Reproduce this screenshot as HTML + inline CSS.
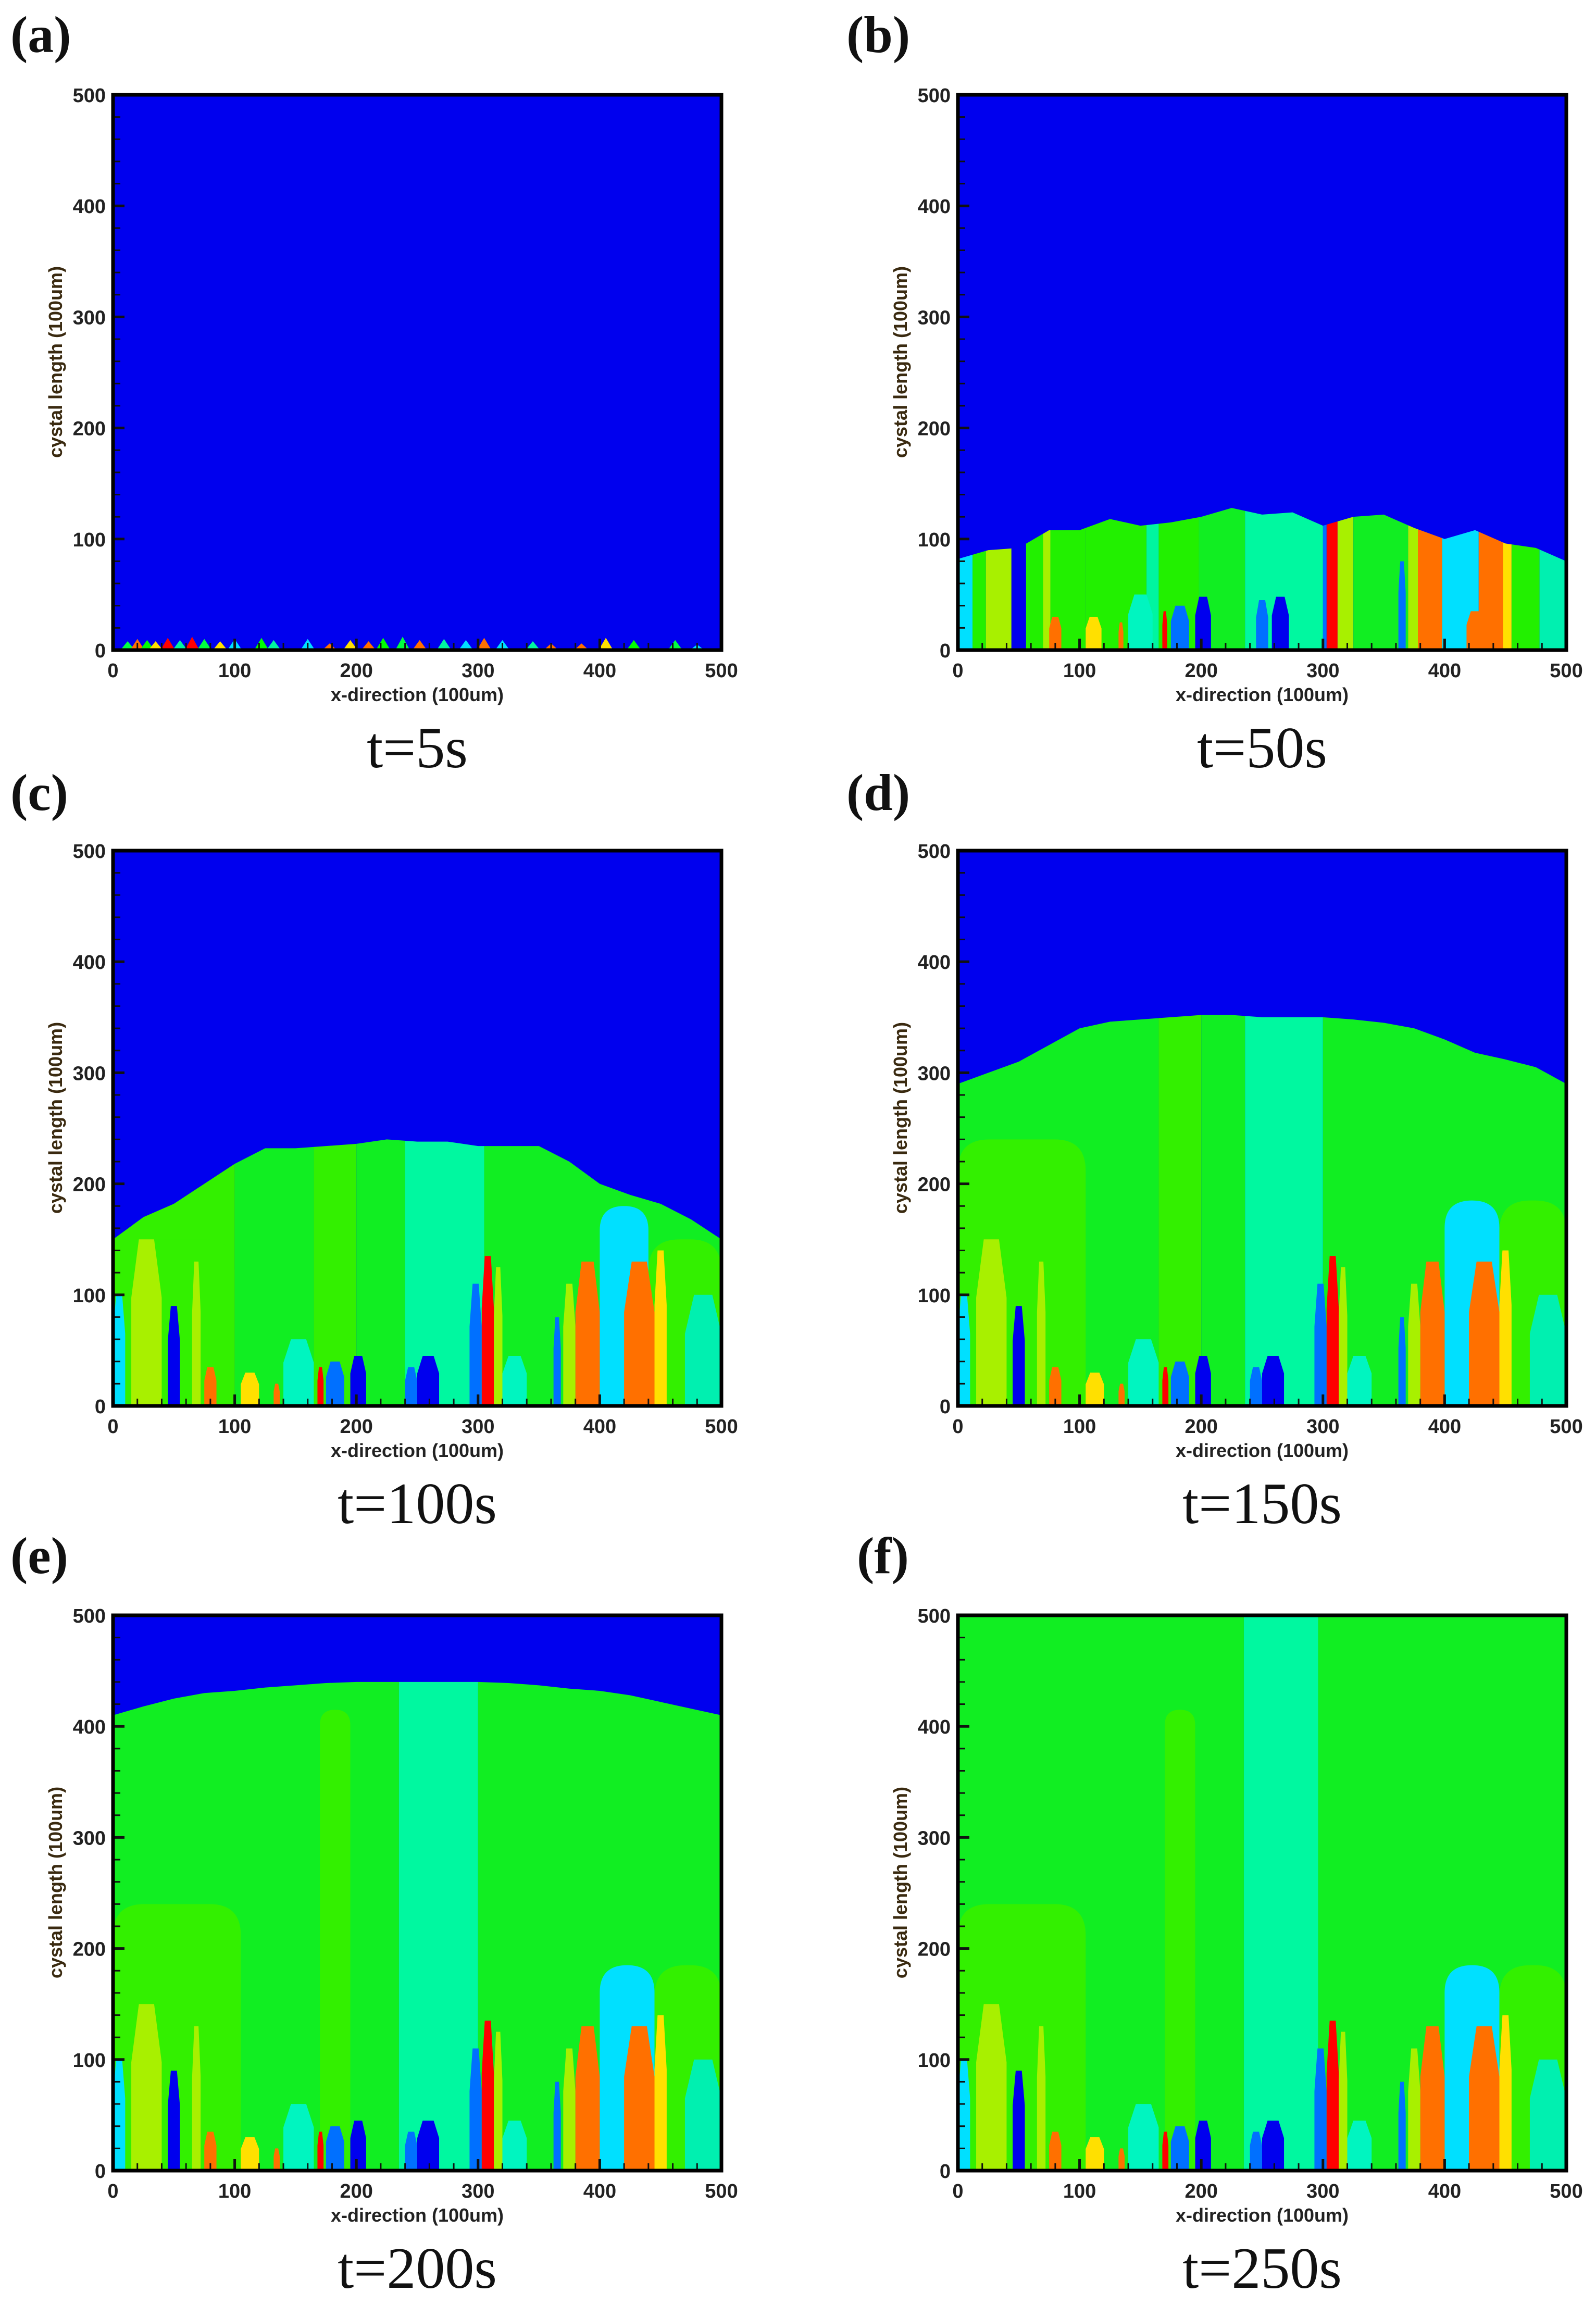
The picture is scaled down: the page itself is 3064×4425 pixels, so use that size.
<!DOCTYPE html>
<html><head><meta charset="utf-8">
<style>
html,body{margin:0;padding:0;background:#fff;}
svg{display:block;}
.tick{font-family:"Liberation Sans",Arial,sans-serif;font-weight:bold;font-size:38px;fill:#222;}
.axt{font-family:"Liberation Sans",Arial,sans-serif;font-weight:bold;font-size:36px;fill:#222;}
.ayt{font-family:"Liberation Sans",Arial,sans-serif;font-weight:bold;font-size:36px;fill:#3a2a10;}
.plab{font-family:"Liberation Serif","Times New Roman",serif;font-weight:bold;font-size:100px;fill:#111;}
.cap{font-family:"Liberation Serif","Times New Roman",serif;font-size:112px;fill:#111;}
</style></head>
<body>
<svg id="fig" width="3064" height="4425" viewBox="0 0 3064 4425" xmlns="http://www.w3.org/2000/svg"></svg>
<script>
// ---- data ----
const panelIds = ["a","b","c","d","e","f"];
const panelTimes = ["t=5s","t=50s","t=100s","t=150s","t=200s","t=250s"];
const tickValues = [0,100,200,300,400,500];
const frontX = [0,25,50,75,100,125,150,175,200,225,250,275,300,325,350,375,400,425,450,475,500];
const frontA = [8,9,10,9,8,9,9,8,8,10,11,9,10,8,9,7,9,10,8,7,5];
const frontB = [82,90,92,108,108,118,112,115,120,128,122,124,112,120,122,110,100,108,96,92,80];
const frontC = [150,170,182,200,218,232,232,234,236,240,238,238,234,234,234,220,200,190,182,168,150];
const frontD = [290,300,310,325,340,346,348,350,352,352,350,350,350,348,345,340,330,318,312,305,290];
const frontE = [410,418,425,430,432,435,437,439,440,440,440,440,440,439,437,434,432,428,422,416,410];
const frontF = [500,500,500,500,500,500,500,500,500,500,500,500,500,500,500,500,500,500,500,500,500];
// stripes: [x0, x1, colour] (data units), filling up to the front
const stripesB = [[0,12,"#00e0ff"],[12,23,"#22f000"],[23,44,"#a8f000"],[44,56,"#0000ee"],[56,70,"#22f000"],[70,76,"#a8f000"],[76,105,"#22f000"],[105,155,"#22f000"],[155,165,"#00f5a0"],[165,198,"#22f000"],[198,236,"#11ee22"],[236,300,"#00f8a0"],[300,303,"#0070ff"],[303,312,"#ff0000"],[312,325,"#a8f000"],[325,370,"#11ee22"],[370,378,"#a8f000"],[378,398,"#ff7000"],[398,428,"#00e0ff"],[428,448,"#ff7000"],[448,455,"#ffe000"],[455,478,"#22f000"],[478,500,"#00f0b0"]];
const stripesC = [[0,100,"#33f000"],[100,165,"#11ee22"],[165,200,"#33f000"],[200,240,"#11ee22"],[240,305,"#00f8a0"],[305,500,"#11ee22"]];
const stripesD = [[0,165,"#11ee22"],[165,200,"#33f000"],[200,236,"#11ee22"],[236,300,"#00f8a0"],[300,500,"#11ee22"]];
const stripesE = [[0,235,"#11ee22"],[235,300,"#00f8a0"],[300,500,"#11ee22"]];
const stripesF = [[0,235,"#11ee22"],[235,296,"#00f8a0"],[296,500,"#11ee22"]];
// large grains: [x0, x1, height, colour]
const bigGrainsC = [[0,100,150,"#33f000"],[400,440,180,"#00e0ff"],[440,500,150,"#33f000"]];
const bigGrainsD = [[0,105,240,"#33f000"],[400,445,185,"#00e0ff"],[445,500,185,"#33f000"]];
const bigGrainsE = [[0,105,240,"#33f000"],[170,195,415,"#33f000"],[400,445,185,"#00e0ff"],[445,500,185,"#33f000"]];
const bigGrainsF = [[0,105,240,"#33f000"],[170,195,415,"#33f000"],[400,445,185,"#00e0ff"],[445,500,185,"#33f000"]];
// small grains near the substrate (shared by c-f)
const lowGrains = [[0,10,100,"#00e0ff"],[15,40,150,"#a8f000"],[45,55,90,"#0000ee"],[65,72,130,"#a8f000"],[75,85,35,"#ff7000"],[105,120,30,"#ffe000"],[132,137,20,"#ff7000"],[140,165,60,"#00f5c0"],[168,173,35,"#ff0000"],[175,190,40,"#0070ff"],[195,208,45,"#0000ee"],[240,250,35,"#0070ff"],[250,268,45,"#0000ee"],[293,303,110,"#0070ff"],[303,313,135,"#ff0000"],[313,320,125,"#a8f000"],[320,340,45,"#00f5c0"],[362,368,80,"#0070ff"],[370,380,110,"#a8f000"],[380,400,130,"#ff7000"],[420,445,130,"#ff7000"],[445,455,140,"#ffe000"],[470,500,100,"#00f0b0"]];
const lowGrainsB = [[75,85,30,"#ff7000"],[105,118,30,"#ffe000"],[132,136,25,"#ff7000"],[140,160,50,"#00f5c0"],[168,172,35,"#ff0000"],[175,190,40,"#0070ff"],[195,208,48,"#0000ee"],[245,255,45,"#0070ff"],[258,272,48,"#0000ee"],[362,368,80,"#0070ff"],[418,432,35,"#ff7000"]];
// nuclei at t=5s: [x, height, colour]
const nucleiA = [[12,8,"#00ff40"],[20,10,"#ff7000"],[28,9,"#00ff00"],[35,8,"#ffe000"],[45,11,"#ff0000"],[55,9,"#00f5a0"],[65,12,"#ff0000"],[75,10,"#00ff40"],[88,8,"#ffe000"],[100,10,"#00e0ff"],[122,11,"#00ff00"],[132,9,"#00f5a0"],[160,10,"#00e0ff"],[178,6,"#ff7000"],[195,9,"#ffe000"],[210,8,"#ff7000"],[222,11,"#00ff00"],[238,12,"#00ff40"],[252,9,"#ff7000"],[272,10,"#00f5a0"],[290,9,"#00e0ff"],[305,11,"#ff7000"],[320,9,"#00e0ff"],[345,8,"#00f5a0"],[360,6,"#ff7000"],[385,6,"#ff7000"],[405,11,"#ffe000"],[428,9,"#00ff00"],[462,9,"#00ff40"],[480,5,"#00e0ff"]];

const fronts = [frontA,frontB,frontC,frontD,frontE,frontF];
const stripesAll = [null,stripesB,stripesC,stripesD,stripesE,stripesF];
const bigAll = [null,null,bigGrainsC,bigGrainsD,bigGrainsE,bigGrainsF];
const lowAll = [null,lowGrainsB,lowGrains,lowGrains,lowGrains,lowGrains];

// ---- layout ----
const W = 1168, H = 1066;
const origins = [[217,182],[1839,182],[217,1633],[1839,1633],[217,3101],[1839,3101]];
const labelPos = [[20,100],[1625,100],[20,1555],[1625,1555],[20,3020],[1645,3020]];
const NS = "http://www.w3.org/2000/svg";
const svg = document.getElementById("fig");
function mk(tag, attrs, parent){ const e=document.createElementNS(NS,tag); for(const k in attrs) e.setAttribute(k,attrs[k]); (parent||svg).appendChild(e); return e; }

panelIds.forEach((id, i) => {
  const [ox, oy] = origins[i];
  const sx = v => ox + v / 500 * W;
  const sy = v => oy + H - v / 500 * H;
  const g = mk("g", {});
  
  
  // clip
  const cp = mk("clipPath", {id: "clip" + id}, g);
  mk("rect", {x: ox, y: oy, width: W, height: H}, cp);
  const fcp = mk("clipPath", {id: "front" + id}, g);
  const fr = fronts[i];
  let d = "M" + sx(0) + "," + sy(0);
  frontX.forEach((x, k) => { d += " L" + sx(x) + "," + sy(fr[k]); });
  d += " L" + sx(500) + "," + sy(0) + " Z";
  mk("path", {d: d}, fcp);
  // liquid background
  const bg = mk("rect", {x: ox, y: oy, width: W, height: H, fill: "#0000ee"}, g);
  
  
  const solid = mk("g", {"clip-path": "url(#front" + id + ")"}, g);
  
  
  if (stripesAll[i]) {
    stripesAll[i].forEach(s => {
      const r = mk("rect", {x: sx(s[0]), y: oy, width: sx(s[1]) - sx(s[0]), height: H, fill: s[2]}, solid);
      
      
    });
  }
  if (bigAll[i]) {
    bigAll[i].forEach(b => {
      const x0 = sx(b[0]), x1 = sx(b[1]), yt = sy(b[2]), yb = sy(0);
      const rr = Math.min((x1 - x0) / 2, 60);
      const p = mk("path", {d: `M${x0},${yb} L${x0},${yt+rr} Q${x0},${yt} ${x0+rr},${yt} L${x1-rr},${yt} Q${x1},${yt} ${x1},${yt+rr} L${x1},${yb} Z`, fill: b[3]}, solid);
      
      
    });
  }
  if (lowAll[i]) {
    lowAll[i].forEach(b => {
      const x0 = sx(b[0]), x1 = sx(b[1]), yt = sy(b[2]), yb = sy(0);
      const w = x1 - x0, inset = w * 0.25;
      const p = mk("path", {d: `M${x0},${yb} L${x0},${yt + (yb-yt)*0.35} L${x0+inset},${yt} L${x1-inset},${yt} L${x1},${yt + (yb-yt)*0.35} L${x1},${yb} Z`, fill: b[3]}, solid);
      
      
    });
  }
  if (i === 0) {
    nucleiA.forEach(n => {
      const cx = sx(n[0]), yt = sy(n[1]), yb = sy(0);
      const p = mk("path", {d: `M${cx-14},${yb} L${cx},${yt} L${cx+14},${yb} Z`, fill: n[2]}, g);
      
      
    });
  }
  // ticks
  for (let v = 0; v <= 500; v += 20) {
    const major = v % 100 === 0;
    const len = major ? 22 : 14;
    const t1 = mk("line", {x1: ox, x2: ox + len, y1: sy(v), y2: sy(v), stroke: "#111", "stroke-width": major ? 5 : 3}, g);
    
    
    const t2 = mk("line", {x1: sx(v), x2: sx(v), y1: oy + H, y2: oy + H - len, stroke: "#111", "stroke-width": major ? 5 : 3}, g);
    
    
  }
  // frame
  const fr2 = mk("rect", {x: ox, y: oy, width: W, height: H, fill: "none", stroke: "#000", "stroke-width": 7}, g);
  
  
  // tick labels
  tickValues.forEach(v => {
    const ty = mk("text", {x: ox - 14, y: sy(v) + 14, "text-anchor": "end", class: "tick"}, g);
    ty.textContent = v;
    
    
    const tx = mk("text", {x: sx(v), y: oy + H + 52, "text-anchor": "middle", class: "tick"}, g);
    tx.textContent = v;
    
    
  });
  const xt = mk("text", {x: ox + W / 2, y: oy + H + 98, "text-anchor": "middle", class: "axt"}, g);
  xt.textContent = "x-direction (100um)";
  
  
  const yx = ox - 98, yy = oy + H / 2 - 20;
  const yt = mk("text", {x: yx, y: yy, "text-anchor": "middle", class: "ayt", transform: `rotate(-90 ${yx} ${yy})`}, g);
  yt.textContent = "cystal length (100um)";
  
  
  const pl = mk("text", {x: labelPos[i][0], y: labelPos[i][1], class: "plab"}, g);
  pl.textContent = "(" + id + ")";
  
  
  const cap = mk("text", {x: ox + W / 2, y: oy + H + 225, "text-anchor": "middle", class: "cap"}, g);
  cap.textContent = panelTimes[i];
  
  
});
</script>
</body></html>
